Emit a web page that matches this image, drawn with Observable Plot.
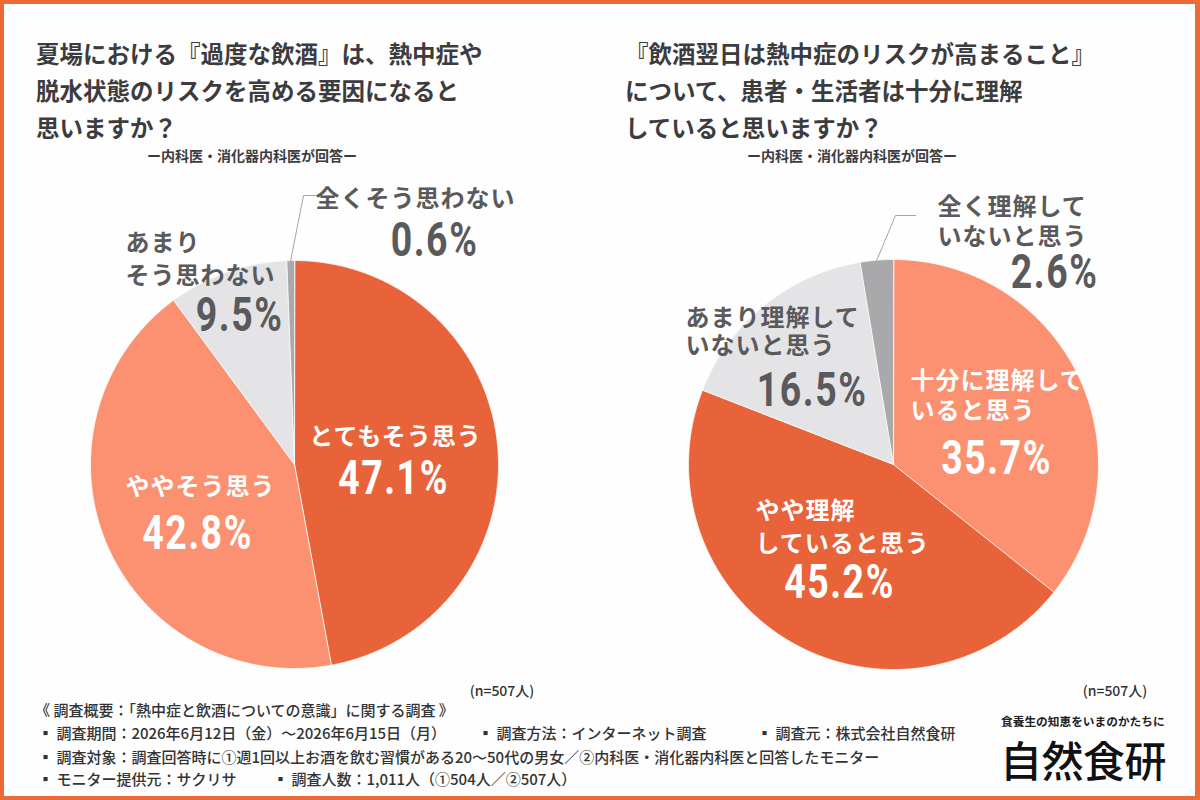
<!DOCTYPE html>
<html><head><meta charset="utf-8">
<script src="https://cdn.jsdelivr.net/npm/d3@7"></script>
<script src="https://cdn.jsdelivr.net/npm/@observablehq/plot@0.6"></script>
<style>
html,body{margin:0;padding:0;background:#fff;}
#page{position:relative;width:1200px;height:800px;background:#fefefe;overflow:hidden;font-family:"Noto Sans CJK JP","Noto Sans",sans-serif;color:#3c3c3e;}
#border{position:absolute;left:0;top:0;width:1200px;height:800px;box-sizing:border-box;border:4px solid #ec6a36;border-right-width:5px;pointer-events:none;z-index:5;}
.abs{position:absolute;white-space:nowrap;}
.title{font-size:23.5px;font-weight:700;line-height:37px;color:#3c3c3e;}
.sub{font-size:14px;font-weight:700;line-height:20px;transform:translateX(-50%);}
.foot{font-size:15px;font-weight:500;line-height:22px;color:#333;}
.n{font-size:14px;font-weight:500;line-height:20px;color:#333;transform:translateX(-50%);}
#plot{position:absolute;left:0;top:170px;}
</style></head><body>
<div id="page">
  <div id="border"></div>
  <div id="plot"></div>
</div>
<script>
// ---------------- data ----------------
const leftTitle = ["夏場における『過度な飲酒』は、熱中症や", "脱水状態のリスクを高める要因になると", "思いますか？"];
const rightTitle = ["『飲酒翌日は熱中症のリスクが高まること』", "について、患者・生活者は十分に理解", "していると思いますか？"];
const subtitle = "ー内科医・消化器内科医が回答ー";
const leftCategories = ["とてもそう思う", "ややそう思う", "あまりそう思わない", "全くそう思わない"];
const leftValues = [47.1, 42.8, 9.5, 0.6];
const rightCategories = ["十分に理解していると思う", "やや理解していると思う", "あまり理解していないと思う", "全く理解していないと思う"];
const rightValues = [35.7, 45.2, 16.5, 2.6];
const sampleLabel = "(n=507人)";
const footnotes = [
  "《 調査概要：「熱中症と飲酒についての意識」に関する調査 》",
  "▪ 調査期間：2026年6月12日（金）～2026年6月15日（月）",
  "▪ 調査方法：インターネット調査",
  "▪ 調査元：株式会社自然食研",
  "▪ 調査対象：調査回答時に①週1回以上お酒を飲む習慣がある20～50代の男女／②内科医・消化器内科医と回答したモニター",
  "▪ モニター提供元：サクリサ",
  "▪ 調査人数：1,011人（①504人／②507人）"
];
const logoTagline = "食養生の知恵をいまのかたちに";
const logoName = "自然食研";

// ---------------- styles / layout ----------------
const DARK = "#e8633a", LIGHT = "#fb9170", PALE = "#e4e4e6", GREY = "#a9a9ac";
const colorOf = {
  "とてもそう思う": DARK, "ややそう思う": LIGHT, "あまりそう思わない": PALE, "全くそう思わない": GREY,
  "十分に理解していると思う": LIGHT, "やや理解していると思う": DARK, "あまり理解していないと思う": PALE, "全く理解していないと思う": GREY
};
const TEXT_GREY = "#5a5a5c";
const NAME_SIZE = 24, PCT_SIZE = 48, PCT_SQUEEZE = 0.78;
// label layout relative to each pie centre: name lines, anchor, line gap, pct position
const leftLayout = [
  {lines: ["とてもそう思う"], nx: 101, ny: -27, anchor: "middle", gap: 0, px: 99, py: 14, panchor: "middle", fill: "#fff"},
  {lines: ["ややそう思う"], nx: -94, ny: 23, anchor: "middle", gap: 0, px: -97, py: 69, panchor: "middle", fill: "#fff"},
  {lines: ["あまり", "そう思わない"], nx: -169, ny: -224, anchor: "start", gap: 33, px: -11, py: -149, panchor: "end", fill: TEXT_GREY},
  {lines: ["全くそう思わない"], nx: 121, ny: -265, anchor: "middle", gap: 0, px: 140, py: -224, panchor: "middle", fill: TEXT_GREY, leader: [[9, -269], [21, -269]]}
];
const rightLayout = [
  {lines: ["十分に理解して", "いると思う"], nx: 17, ny: -85, anchor: "start", gap: 30, px: 103, py: -6, panchor: "middle", fill: "#fff"},
  {lines: ["やや理解", "していると思う"], nx: -138, ny: 44, anchor: "start", gap: 33, px: -54, py: 118, panchor: "middle", fill: "#fff"},
  {lines: ["あまり理解して", "いないと思う"], nx: -208, ny: -147, anchor: "start", gap: 28, px: -26, py: -74, panchor: "end", fill: TEXT_GREY},
  {lines: ["全く理解して", "いないと思う"], nx: 44, ny: -259, anchor: "start", gap: 30, px: 205, py: -192, panchor: "end", fill: TEXT_GREY, leader: [[2, -249], [22, -249]]}
];
const pies = [
  {cats: leftCategories, vals: leftValues, cx: 294, cy: 464, r: 204, layout: leftLayout},
  {cats: rightCategories, vals: rightValues, cx: 893, cy: 464, r: 205, layout: rightLayout}
];

// ---------------- geometry from data ----------------
const sliceRows = [], leaderRows = [], textRows = [];
const fmt = d3.format(".1f");
pies.forEach((p, pi) => {
  const arcs = d3.pie().sort(null).value(d => d)(p.vals);
  arcs.forEach((a, i) => {
    const key = p.cats[i];
    const pt = t => ({x: p.cx + p.r * Math.sin(t), y: p.cy - p.r * Math.cos(t)});
    sliceRows.push({key, x: p.cx, y: p.cy});
    const n = Math.max(2, Math.ceil((a.endAngle - a.startAngle) / 0.005));
    for (let k = 0; k <= n; k++) {
      const t = a.startAngle + (a.endAngle - a.startAngle) * k / n;
      sliceRows.push({key, ...pt(t)});
    }
    const L = p.layout[i];
    const lh = L.lines.length > 1 ? L.gap / NAME_SIZE : 1;
    textRows.push({text: L.lines.join("\n"), x: p.cx + L.nx, y: p.cy + L.ny + L.gap * (L.lines.length - 1) / 2,
                   anchor: L.anchor, fill: L.fill, kind: "name", lh});
    textRows.push({text: fmt(p.vals[i]) + "%", x: p.cx + L.px, y: p.cy + L.py, anchor: L.panchor, fill: L.fill, kind: "pct", lh: 1});
    if (L.leader) {
      const mid = pt((a.startAngle + a.endAngle) / 2);
      const id = key;
      leaderRows.push({id, ...mid});
      L.leader.forEach(([dx, dy]) => leaderRows.push({id, x: p.cx + dx, y: p.cy + dy}));
    }
  });
});

const allCats = [...leftCategories, ...rightCategories];
const textMarks = d3.groups(textRows, d => [d.kind, d.anchor, d.fill, d.lh].join("|")).map(([k, rows]) => {
  const r0 = rows[0];
  return Plot.text(rows, {
    x: "x", y: "y", text: "text", textAnchor: r0.anchor, fill: r0.fill, lineAnchor: "middle", lineHeight: r0.lh,
    fontSize: r0.kind === "pct" ? PCT_SIZE : NAME_SIZE,
    fontWeight: 700,
    fontFamily: r0.kind === "pct" ? "Roboto,'DejaVu Sans Condensed',sans-serif" : "'Noto Sans CJK JP',sans-serif"
  });
});

const chart = Plot.plot({
  width: 1200, height: 530, margin: 0,
  x: {domain: [0, 1200], range: [0, 1200], axis: null},
  y: {domain: [170, 700], range: [0, 530], axis: null},
  color: {domain: allCats, range: allCats.map(c => colorOf[c])},
  style: {background: "transparent", letterSpacing: "1px", overflow: "visible"},
  marks: [
    Plot.line(sliceRows, {x: "x", y: "y", z: "key", fill: "key", stroke: "#ffffff", strokeWidth: 0.8, curve: "linear-closed"}),
    Plot.line(leaderRows, {x: "x", y: "y", z: "id", stroke: "#a3a3a6", strokeWidth: 1, curve: "linear"}),
    ...textMarks
  ]
});
// condense the percentage figures horizontally (DIN-like look)
chart.querySelectorAll(`g[font-size="${PCT_SIZE}"] text`).forEach(t => {
  const tr = t.getAttribute("transform");
  if (tr) {
    t.setAttribute("transform", tr + ` scale(${PCT_SQUEEZE},1)`);
  } else {
    const x = +t.getAttribute("x") || 0, y = +t.getAttribute("y") || 0;
    t.removeAttribute("x"); t.removeAttribute("y");
    t.setAttribute("transform", `translate(${x},${y}) scale(${PCT_SQUEEZE},1)`);
  }
  t.style.letterSpacing = "2px";
});
document.getElementById("plot").appendChild(chart);

// ---------------- html text ----------------
const page = document.getElementById("page");
function add(cls, text, x, y) {
  const d = document.createElement("div");
  d.className = "abs " + cls; d.textContent = text;
  d.style.left = x + "px"; d.style.top = y + "px";
  page.appendChild(d); return d;
}
leftTitle.forEach((s, i) => add("title", s, 36, 35 + i * 37));
rightTitle.forEach((s, i) => add("title", s, 625, 35 + i * 37));
add("sub", subtitle, 252, 145);
add("sub", subtitle, 852, 145);
add("n", sampleLabel, 502, 680);
add("n", sampleLabel, 1115, 680);
add("foot", footnotes[0], 35, 699);
add("foot", footnotes[1], 38, 722);
add("foot", footnotes[2], 478, 722);
add("foot", footnotes[3], 757, 722);
add("foot", footnotes[4], 38, 746);
add("foot", footnotes[5], 38, 768);
add("foot", footnotes[6], 273, 768);
const t = add("", logoTagline, 1001, 713); t.style.cssText += "font-size:11.7px;font-weight:700;line-height:16px;color:#222;";
const l = add("", logoName, 1000, 736); l.style.cssText += "font-size:42px;font-weight:500;line-height:46px;color:#111;letter-spacing:-0.5px;";
</script>
</body></html>
